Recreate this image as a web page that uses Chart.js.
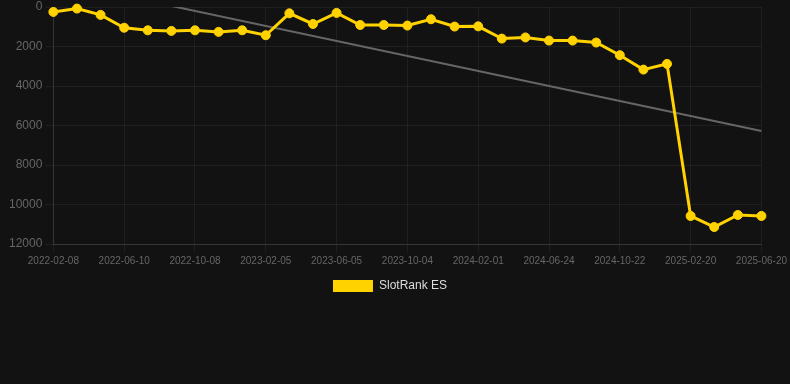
<!DOCTYPE html>
<html>
<head>
<meta charset="utf-8">
<script src="https://cdn.jsdelivr.net/npm/chart.js@4.4.0/dist/chart.umd.min.js"></script>
<style>
  html, body { margin: 0; padding: 0; background: #121212; }
  #chart-container { width: 790px; height: 302px; }
</style>
</head>
<body>
<div id="chart-container"><canvas id="chart"></canvas></div>
<script>
// Dates on the x axis (only every 3rd is shown)
const dates = [
  "2022-02-08", "2022-03-20", "2022-04-30", "2022-06-10", "2022-07-20", "2022-08-29",
  "2022-10-08", "2022-11-16", "2022-12-27", "2023-02-05", "2023-03-17", "2023-04-26",
  "2023-06-05", "2023-07-15", "2023-08-25", "2023-10-04", "2023-11-12", "2023-12-22",
  "2024-02-01", "2024-03-17", "2024-05-10", "2024-06-24", "2024-08-02", "2024-09-12",
  "2024-10-22", "2024-12-01", "2025-01-10", "2025-02-20", "2025-04-01", "2025-05-11",
  "2025-06-20"
];

// SlotRank ES rank values
const rankES = [
  250, 80, 400, 1050, 1180, 1210, 1180, 1260, 1180, 1430, 320,
  860, 300, 910, 910, 940, 620, 990, 980, 1600, 1540, 1700,
  1700, 1800, 2440, 3170, 2880, 10580, 11140, 10530, 10580
];

// Trend line, only the two end points (gap spanned)
const trend = dates.map(() => null);
trend[0] = -1320;
trend[dates.length - 1] = 6280;

const yTicks = { min: 0, max: 12000, step: 2000 };

document.addEventListener('DOMContentLoaded', function() {
  const ctx = document.getElementById("chart").getContext("2d");
  Chart.defaults.font.family = 'Arial, "Liberation Sans", sans-serif';

  new Chart(ctx, {
    type: "line",
    data: {
      labels: dates,
      datasets: [
        {
          label: "SlotRank ES",
          data: rankES,
          borderColor: "#FFD200",
          backgroundColor: "#FFD200",
          borderWidth: 3,
          pointRadius: 4.5,
          pointBorderWidth: 1,
          pointHoverRadius: 6,
          pointBackgroundColor: "#FFD200",
          pointBorderColor: "#FFD200",
          tension: 0,
          clip: false
        },
        {
          label: "trend",
          data: trend,
          borderColor: "#666666",
          borderWidth: 2,
          pointRadius: 0,
          spanGaps: true,
          fill: false
        }
      ]
    },
    options: {
      responsive: true,
      maintainAspectRatio: false,
      animation: false,
      layout: { padding: { top: 0, right: 10, left: 0 } },
      plugins: {
        legend: {
          position: 'bottom',
          labels: {
            color: '#dddddd',
            font: { size: 12 },
            boxWidth: 40,
            boxHeight: 12,
            filter: item => item.text !== 'trend',
            generateLabels: chart => Chart.defaults.plugins.legend.labels.generateLabels(chart)
              .map(l => Object.assign(l, { lineWidth: 0 }))
          }
        },
        tooltip: { enabled: false }
      },
      scales: {
        y: {
          reverse: true,
          min: yTicks.min,
          max: yTicks.max,
          afterFit: scale => { scale.width += 6; },
          ticks: {
            stepSize: yTicks.step,
            color: '#666666',
            font: { size: 12, lineHeight: 0.65 },
            callback: v => String(v)
          },
          grid: { color: 'rgba(255,255,255,0.06)' },
          border: { color: 'rgba(255,255,255,0.1)' }
        },
        x: {
          ticks: {
            color: '#666666',
            font: { size: 10 },
            maxRotation: 0,
            autoSkip: true,
            maxTicksLimit: 11
          },
          grid: { color: 'rgba(255,255,255,0.06)' },
          border: { color: 'rgba(255,255,255,0.1)' }
        }
      }
    }
  });
});
</script>
</body>
</html>
